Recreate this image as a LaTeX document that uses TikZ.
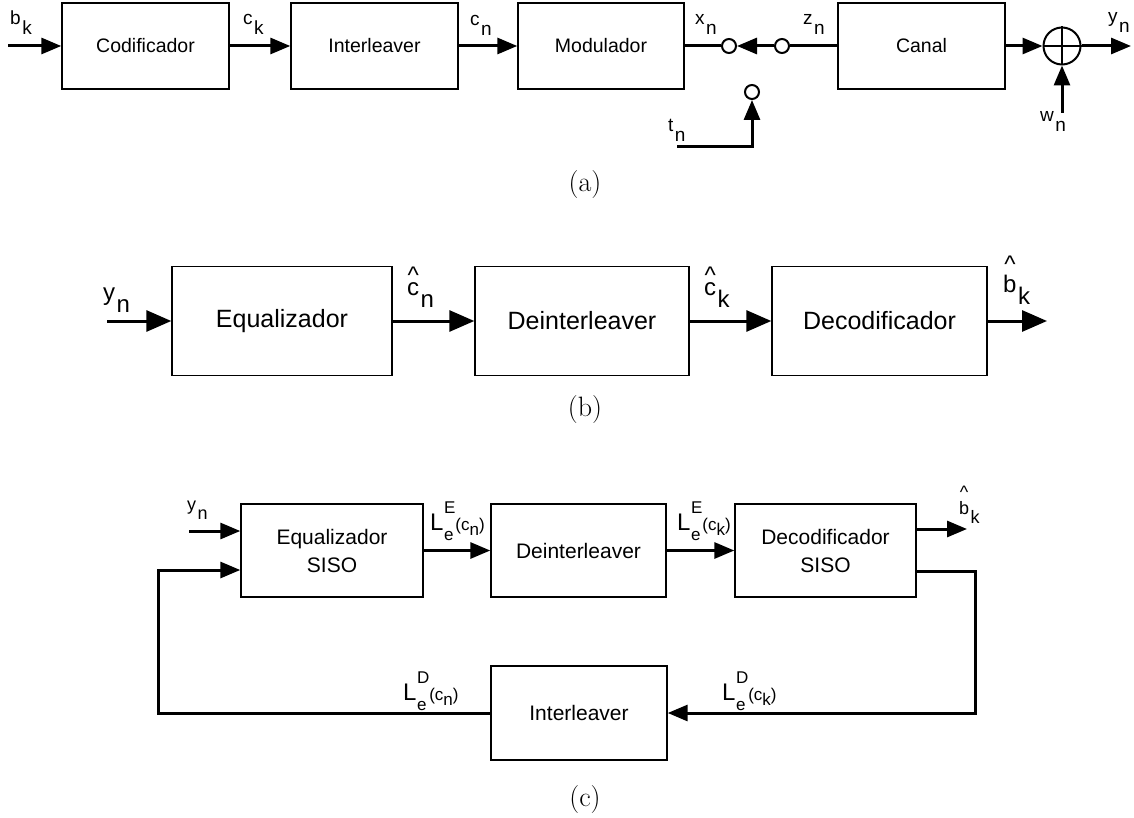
\documentclass[tikz,border=0pt]{standalone}
\usepackage{fontspec}
\newfontfamily\arial{Liberation Sans}
\usetikzlibrary{arrows.meta}
\newcommand{\sbx}[2]{#1\kern1.5pt\raisebox{-0.5em}{#2}}
\newcommand{\hatt}[2]{\ooalign{#1\cr\hidewidth\raisebox{#2}{\textasciicircum}\hidewidth\cr}}
\newcommand{\Lx}[3]{{\fontsize{24}{24}\selectfont L}\kern0.5pt\rlap{\raisebox{-10pt}{#2}}\raisebox{17pt}{#1}(c\raisebox{-5pt}{#3})}
\tikzset{
  bxa/.style={draw, line width=1.4pt, inner sep=0pt, font=\arial\fontsize{19.5}{22}\selectfont},
  bxb/.style={draw, line width=1.4pt, inner sep=0pt, font=\arial\fontsize{25}{28}\selectfont},
  bxc/.style={draw, line width=1.4pt, inner sep=0pt, align=center, font=\arial\fontsize{21}{28}\selectfont},
  lna/.style={line width=3pt, line join=miter},
  arra/.style={line width=3pt, line join=miter, -{Triangle[length=20pt,width=16pt]}},
  arrb/.style={line width=3pt, line join=miter, -{Triangle[length=25pt,width=21pt]}},
  arrc/.style={line width=3pt, line join=miter, -{Triangle[length=20pt,width=16pt]}},
  swc/.style={circle, draw, line width=2pt, fill=white, minimum size=14pt, inner sep=0pt},
  sumc/.style={circle, draw, line width=2pt, minimum size=37pt, inner sep=0pt},
  lbla/.style={anchor=base west, inner sep=0pt, font=\arial\fontsize{19}{19}\selectfont},
  lblb/.style={anchor=base west, inner sep=0pt, font=\arial\fontsize{24}{24}\selectfont},
  lblc/.style={anchor=base west, inner sep=0pt, font=\arial\fontsize{18}{18}\selectfont},
  lbll/.style={anchor=base west, inner sep=0pt, font=\arial\fontsize{17}{17}\selectfont},
  capt/.style={inner sep=0pt, font=\fontsize{28}{32}\selectfont}
}
\begin{document}
\begin{tikzpicture}[x=1pt,y=-1pt]
\useasboundingbox (0,0) rectangle (1134,818);
% ---------------- (a)
\node[bxa, minimum width=167pt, minimum height=86pt] (cod) at (145.5,46) {Codificador};
\node[bxa, minimum width=167pt, minimum height=86pt] (intl) at (374.5,46) {Interleaver};
\node[bxa, minimum width=166pt, minimum height=86pt] (mod) at (601,46) {Modulador};
\node[bxa, minimum width=167pt, minimum height=86pt] (can) at (921.5,46) {Canal};
\coordinate (bin) at (8,46);
\draw[arra] (bin) -- (cod.west);
\draw[arra] (cod.east) -- (intl.west);
\draw[arra] (intl.east) -- (mod.west);
\node[swc] (s1) at (729,46) {};
\node[swc] (s2) at (782,46) {};
\node[swc] (s3) at (752,92) {};
\draw[lna] (mod.east) -- (s1.west);
\draw[arra] (s2.west) -- (s1.east);
\draw[lna] (s2.east) -- (can.west);
\coordinate (tin) at (677,147);
\draw[arra] (tin) -| (s3.south);
\node[sumc] (sum) at (1062,46) {};
\draw[line width=2pt] (sum.north) -- (sum.south) (sum.west) -- (sum.east);
\draw[arra] (can.east) -- (sum.west);
\coordinate (yout) at (1131,46);
\draw[arra] (sum.east) -- (yout);
\coordinate (win) at (1062,113);
\draw[arra] (win) -- (sum.south);
\node[lbla] (lbk) at (10,25) {\sbx{b}{k}};
\node[lbla] (lck) at (243,25) {\sbx{c}{k}};
\node[lbla] (lcn) at (470,26) {\sbx{c}{n}};
\node[lbla] (lxn) at (695,25) {\sbx{x}{n}};
\node[lbla] (lzn) at (803,25) {\sbx{z}{n}};
\node[lbla] (lyn) at (1108,23) {\sbx{y}{n}};
\node[lbla] (lwn) at (1040,122) {\sbx{w}{n}};
\node[lbla] (ltn) at (668,132) {\sbx{t}{n}};
\node[capt] (capa) at (585,185) {(a)};
% ---------------- (b)
\node[bxb, minimum width=220pt, minimum height=109pt] (eq) at (282,321) {Equalizador};
\node[bxb, minimum width=214pt, minimum height=109pt] (dei) at (582,321) {Deinterleaver};
\node[bxb, minimum width=215pt, minimum height=109pt] (dec) at (879.5,321) {Decodificador};
\coordinate (ybin) at (107,321);
\coordinate (bbout) at (1047,321);
\draw[arrb] (ybin) -- (eq.west);
\draw[arrb] (eq.east) -- (dei.west);
\draw[arrb] (dei.east) -- (dec.west);
\draw[arrb] (dec.east) -- (bbout);
\node[lblb] (lybn) at (103,300) {\sbx{y}{n}};
\node[lblb] (lcbn) at (407,295) {\sbx{\hatt{c}{0.5em}}{n}};
\node[lblb] (lcbk) at (704,295) {\sbx{\hatt{c}{0.5em}}{k}};
\node[lblb] (lbbk) at (1003,292) {\sbx{\hatt{b}{0.8em}}{k}};
\node[capt] (capb) at (585,410) {(b)};
% ---------------- (c)
\node[bxc, minimum width=182pt, minimum height=93pt] (eqs) at (332,550.5) {Equalizador\\SISO};
\node[bxc, minimum width=175pt, minimum height=93pt] (deis) at (578.5,550.5) {Deinterleaver};
\node[bxc, minimum width=181pt, minimum height=93pt] (decs) at (825.5,550.5) {Decodificador\\SISO};
\node[bxc, minimum width=176pt, minimum height=94pt] (ints) at (579,713) {Interleaver};
\coordinate (ycin) at (189,531);
\draw[arrc] (ycin) -- (ycin -| eqs.west);
\draw[arrc] (eqs.east) -- (deis.west);
\draw[arrc] (deis.east) -- (decs.west);
\coordinate (bcout) at (967,529);
\draw[arrc] (bcout -| decs.east) -- (bcout);
\coordinate (fr) at (975,571);
\draw[arrc] (fr -| decs.east) -- (fr) |- (ints.east);
\coordinate (fl) at (158,570);
\draw[arrc] (ints.west) -| (fl) -- (fl -| eqs.west);
\node[lblc] (lyc) at (187,510) {\sbx{y}{n}};
\node[lblc] (lbc) at (959,514) {\sbx{\hatt{b}{0.85em}}{k}};
\node[lbll] (lecn) at (430,530) {\Lx{E}{e}{n}};
\node[lbll] (leck) at (677,530) {\Lx{E}{e}{k}};
\node[lbll] (ldcn) at (403,700) {\Lx{D}{e}{n}};
\node[lbll] (ldck) at (722,700) {\Lx{D}{e}{k}};
\node[capt] (capc) at (585,800) {(c)};
\end{tikzpicture}
\end{document}
